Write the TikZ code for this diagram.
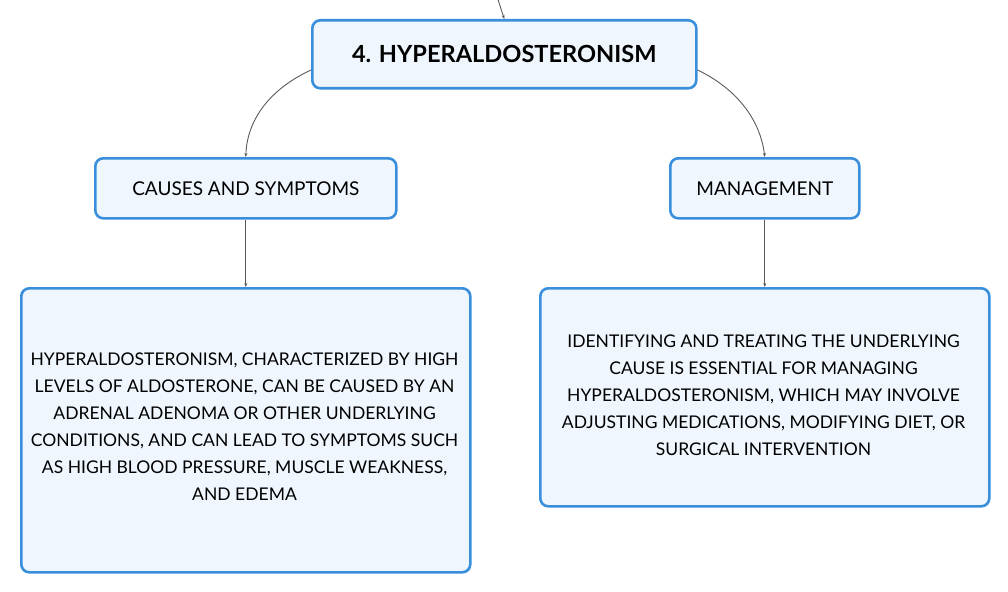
\documentclass[tikz,border=0pt]{standalone}
\usepackage{fontspec}
\setmainfont{Lato}
\usetikzlibrary{arrows.meta}
\definecolor{bordblue}{HTML}{3A8FDC}
\definecolor{boxfill}{HTML}{EFF6FD}
\definecolor{linegray}{HTML}{5A5A5A}
\begin{document}
\begin{tikzpicture}[x=1pt,y=-1pt,
  box/.style={draw=bordblue,line width=2.6pt,fill=boxfill,rounded corners=8pt,inner sep=0pt,anchor=north west},
  conn/.style={draw=linegray,line width=0.9pt,-{Stealth[length=4pt,width=3pt]}},
  label/.style={font=\fontsize{19}{22}\selectfont,text=black},
  body/.style={font=\fontsize{17.5}{27}\selectfont,align=center,text=black}]
\useasboundingbox (0,0) rectangle (1008,591);
\node[box,minimum width=384pt,minimum height=68pt] (top) at (311,19) {};
\node[font=\fontsize{23.6}{28}\selectfont\bfseries] (toptext) at (top.center) {4. HYPERALDOSTERONISM};
\node[box,minimum width=301pt,minimum height=60pt] (cs) at (94,157) {};
\node[label] (cstext) at (cs.center) {CAUSES AND SYMPTOMS};
\node[box,minimum width=189pt,minimum height=60pt] (mg) at (669,157) {};
\node[label] (mgtext) at (mg.center) {MANAGEMENT};
\node[box,minimum width=449pt,minimum height=284pt] (lb) at (20,287) {};
\node[body] (lbtext) at (244.5,427) {HYPERALDOSTERONISM, CHARACTERIZED BY HIGH\\LEVELS OF ALDOSTERONE, CAN BE CAUSED BY AN\\ADRENAL ADENOMA OR OTHER UNDERLYING\\CONDITIONS, AND CAN LEAD TO SYMPTOMS SUCH\\AS HIGH BLOOD PRESSURE, MUSCLE WEAKNESS,\\AND EDEMA};
\node[box,minimum width=449pt,minimum height=218pt] (rb) at (539,287) {};
\node[body] (rbtext) at (763.5,395) {IDENTIFYING AND TREATING THE UNDERLYING\\CAUSE IS ESSENTIAL FOR MANAGING\\HYPERALDOSTERONISM, WHICH MAY INVOLVE\\ADJUSTING MEDICATIONS, MODIFYING DIET, OR\\SURGICAL INTERVENTION};
\coordinate (in) at (497.5,-2);
\draw[conn] (in) .. controls (500,6) and (502,12) .. (top.north);
\draw[conn] (top.west|-0,70) .. controls (272,88) and (247,118) .. (cs.north);
\draw[conn] (top.east|-0,70) .. controls (735,88) and (760,118) .. (mg.north);
\draw[conn] (cs.south) -- (lb.north);
\draw[conn] (mg.south) -- (rb.north);
\end{tikzpicture}
\end{document}
